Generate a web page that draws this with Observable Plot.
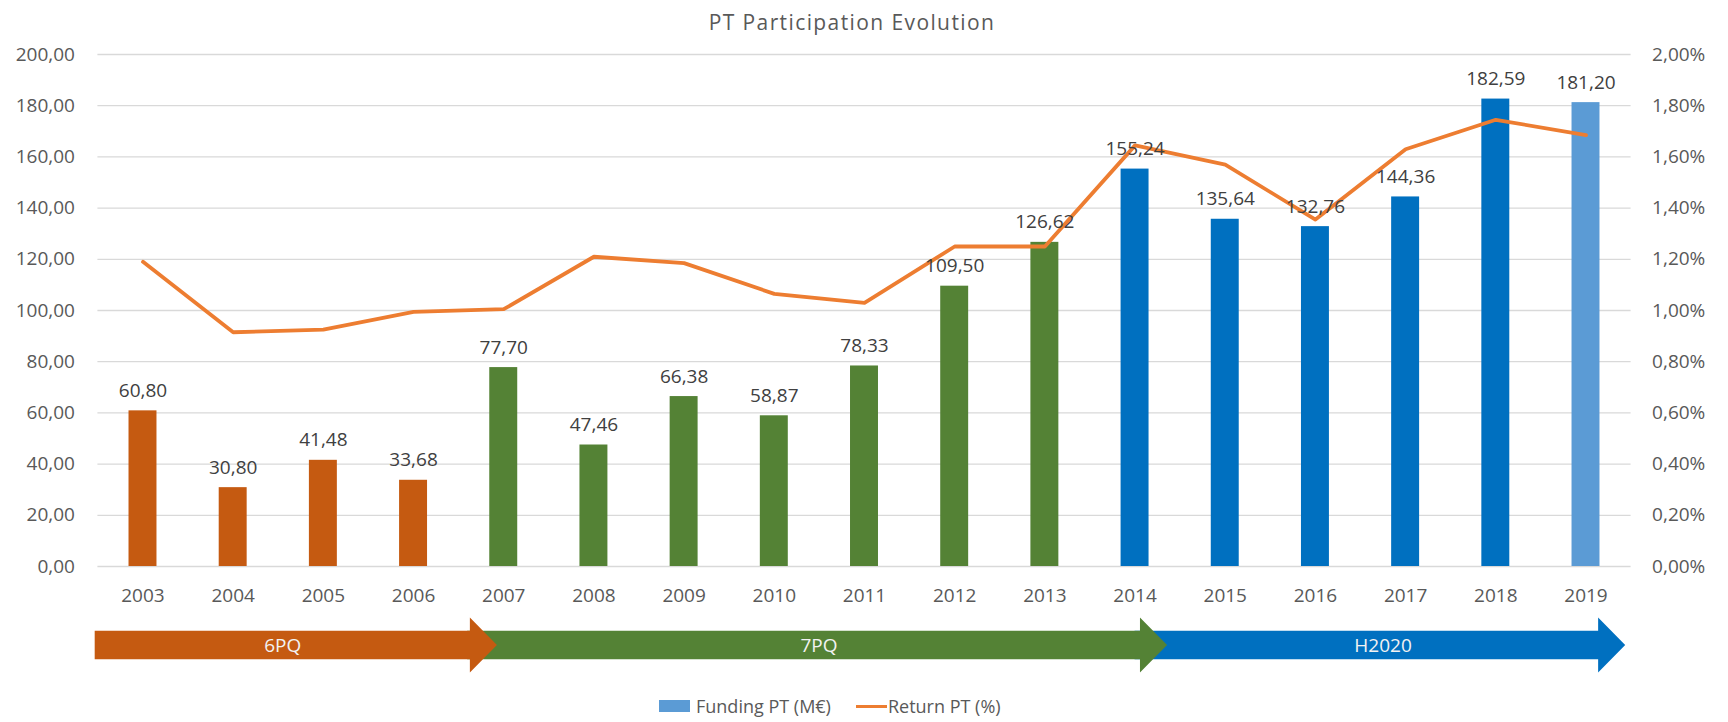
<!DOCTYPE html>
<html>
<head>
<meta charset="utf-8">
<script src="https://cdn.jsdelivr.net/npm/d3@7"></script>
<script src="https://cdn.jsdelivr.net/npm/@observablehq/plot@0.6"></script>
<style>
  body { margin: 0; background: #fff; }
  #wrap { position: relative; width: 1728px; height: 722px; overflow: hidden; font-family: "Open Sans", sans-serif; }
  #title { position: absolute; top: 12px; left: 0; width: 1704px; text-align: center; font-size: 21px; line-height: 21px; letter-spacing: 1.4px; color: #595959; }
  #main { position: absolute; top: 0; left: 0; }
  #arrows { position: absolute; top: 610px; left: 0; }
  #legend { position: absolute; top: 694px; left: 659px; display: flex; align-items: center; font-size: 18px; line-height: 24px; color: #595959; white-space: nowrap; }
  #legend .sw { display: inline-block; width: 31px; height: 12px; background: #5B9BD5; margin-right: 6px; }
  #legend .ln { display: inline-block; width: 31px; height: 3px; background: #ED7D31; margin-left: 25px; margin-right: 1px; }
</style>
</head>
<body>
<div id="wrap">
  <div id="title">PT Participation Evolution</div>
  <div id="main"></div>
  <div id="arrows"></div>
  <div id="legend"><span class="sw"></span><span>Funding PT (M€)</span><span class="ln"></span><span>Return PT (%)</span></div>
</div>
<script>
// ---- data ----
const years = [2003, 2004, 2005, 2006, 2007, 2008, 2009, 2010, 2011, 2012, 2013, 2014, 2015, 2016, 2017, 2018, 2019];
const fundingPT = [60.80, 30.80, 41.48, 33.68, 77.70, 47.46, 66.38, 58.87, 78.33, 109.50, 126.62, 155.24, 135.64, 132.76, 144.36, 182.59, 181.20];
const returnPT = [1.19, 0.915, 0.925, 0.995, 1.005, 1.21, 1.185, 1.065, 1.03, 1.25, 1.25, 1.645, 1.57, 1.355, 1.63, 1.745, 1.685];
const barGroup = ["6PQ", "6PQ", "6PQ", "6PQ", "7PQ", "7PQ", "7PQ", "7PQ", "7PQ", "7PQ", "7PQ", "H2020", "H2020", "H2020", "H2020", "H2020", "Funding PT (M€)"];
const leftTicks = [0, 20, 40, 60, 80, 100, 120, 140, 160, 180, 200];
const programmes = ["6PQ", "7PQ", "H2020"];
const progFrom = [2002.47, 2006.6, 2014.0];
const progTo = [2006.93, 2014.36, 2019.44];

// ---- styles ----
const groupColors = { "6PQ": "#C55A11", "7PQ": "#548235", "H2020": "#0070C0", "Funding PT (M€)": "#5B9BD5" };
const W = 1728, mL = 97.4, mR = 97.4;
const fmt2 = v => v.toFixed(2).replace(".", ",");

const rows = years.map((y, i) => ({ year: y, funding: fundingPT[i], ret: returnPT[i], group: barGroup[i] }));

const main = Plot.plot({
  width: W, height: 615,
  marginLeft: mL, marginRight: mR, marginTop: 54, marginBottom: 49,
  style: { fontFamily: '"Open Sans", sans-serif', fontSize: "19px", color: "#595959", background: "transparent", overflow: "visible" },
  x: { type: "band", domain: years, paddingInner: 0.69, paddingOuter: 0.345, round: false, label: null },
  y: { domain: [0, 200], label: null },
  color: { domain: Object.keys(groupColors), range: Object.values(groupColors) },
  marks: [
    Plot.gridY(leftTicks, { stroke: "#D9D9D9", strokeOpacity: 1, strokeWidth: 1.3 }),
    Plot.barY(rows, { x: "year", y: "funding", fill: "group" }),
    Plot.line(rows, { x: "year", y: d => d.ret * 100, stroke: "#ED7D31", strokeWidth: 3.8, strokeLinejoin: "round", strokeLinecap: "round" }),
    Plot.text(rows, { x: "year", y: "funding", text: d => fmt2(d.funding), lineAnchor: "bottom", dy: -14, fill: "#404040", fontSize: 19 }),
    Plot.axisY(leftTicks, { anchor: "left", tickSize: 0, tickPadding: 23, tickFormat: fmt2, label: null, fill: "#595959" }),
    Plot.axisY(leftTicks, { anchor: "right", tickSize: 0, tickPadding: 21, tickFormat: v => fmt2(v / 100) + "%", label: null, fill: "#595959" }),
    Plot.axisX({ tickSize: 0, tickPadding: 22, tickFormat: d => String(d), label: null, fill: "#595959" })
  ]
});
document.getElementById("main").appendChild(main);

// ---- programme arrows ----
const headLen = 0.30, bodyHalf = 0.52;
const arrowShapes = programmes.map((p, i) => {
  const from = progFrom[i], to = progTo[i], hb = to - headLen;
  return [
    { p, x: from, y1: -bodyHalf, y2: bodyHalf },
    { p, x: hb, y1: -bodyHalf, y2: bodyHalf },
    { p, x: hb, y1: -1, y2: 1 },
    { p, x: to, y1: 0, y2: 0 }
  ];
});
const arrowLabels = programmes.map((p, i) => {
  const start = i === 0 ? progFrom[i] : Math.max(progFrom[i], progTo[i - 1]);
  return { p, x: (start + progTo[i] - headLen) / 2 };
});
const arrowColors = ["#C55A11", "#548235", "#0070C0"];

const arrows = Plot.plot({
  width: W, height: 70,
  marginLeft: mL, marginRight: mR, marginTop: 7.5, marginBottom: 7.5,
  style: { fontFamily: '"Open Sans", sans-serif', fontSize: "19px", background: "transparent", overflow: "visible" },
  x: { type: "linear", domain: [years[0] - 0.5, years[years.length - 1] + 0.5], axis: null },
  y: { type: "linear", domain: [-1, 1], axis: null },
  marks: [
    ...[2, 1, 0].map(i => Plot.area(arrowShapes[i], { x1: "x", y1: "y1", y2: "y2", fill: arrowColors[i], curve: "linear" })),
    Plot.text(arrowLabels, { x: "x", y: () => 0, text: "p", fill: "#F2F2F2", fontSize: 19 })
  ]
});
document.getElementById("arrows").appendChild(arrows);
</script>
</body>
</html>
